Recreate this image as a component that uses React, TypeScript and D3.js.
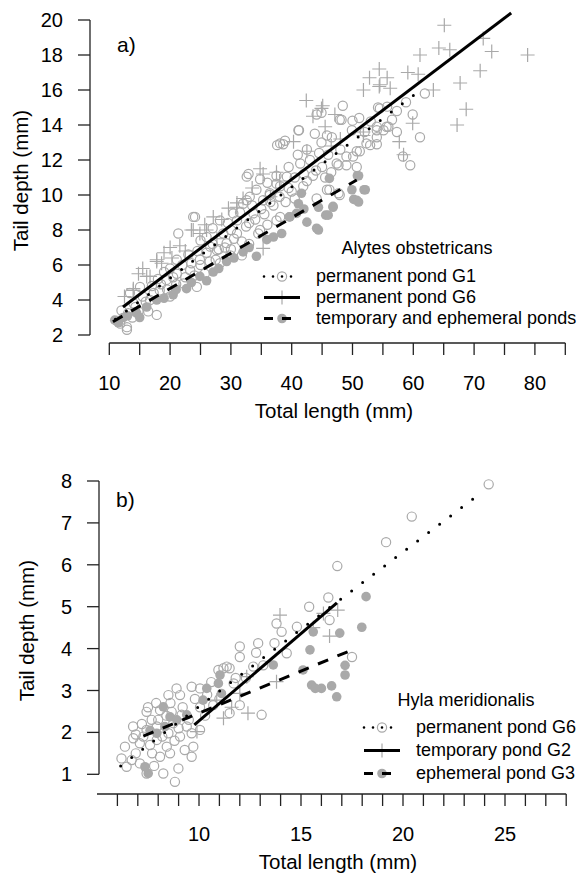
import React from 'react';
import { scaleLinear, line } from 'd3';

// ---- panel a: Alytes obstetricans (total length mm, tail depth mm)
const aG1: [number, number][] = [
  [61.9, 15.8], [58.8, 15.3], [59.9, 14.6], [61.1, 13.3], [59.5, 11.7], [58.3, 12.2], [54.2, 15.0], [55.7, 15.05],
  [57.3, 14.8], [48.4, 15.1], [44.1, 14.6], [44.9, 14.7], [48.2, 14.3], [50.0, 14.25], [51.1, 14.4], [41.2, 13.7],
  [43.8, 13.5], [45.8, 13.4], [46.6, 13.3], [44.9, 13.0], [54.0, 13.9], [55.9, 13.9], [57.3, 13.6], [54.0, 12.9],
  [52.9, 12.85], [54.0, 13.3], [55.1, 13.7], [49.9, 13.7], [51.2, 12.5], [50.1, 12.2], [47.7, 11.7], [49.0, 11.7],
  [50.7, 11.6], [47.7, 10.1], [46.2, 10.3], [38.9, 13.1], [38.6, 12.9], [41.1, 13.7], [37.6, 12.85], [32.9, 11.2],
  [34.8, 10.9], [47.9, 14.3], [47.4, 11.8], [52.3, 12.95], [54.0, 13.7], [55.6, 13.9], [54.5, 14.95], [41.4, 11.8],
  [39.2, 11.05], [37.5, 10.65], [41.9, 10.5], [44.1, 9.8], [45.8, 10.3], [47.9, 10.0], [38.1, 8.75], [36.4, 10.0],
  [35.3, 9.7], [34.2, 10.3], [33.1, 9.9], [32.0, 9.5], [30.4, 8.95], [28.2, 8.55], [49.0, 12.2], [50.7, 12.5],
  [24.1, 8.75], [21.35, 7.8], [15.05, 4.75], [13.4, 4.4], [16.4, 3.35], [17.8, 3.15], [20.0, 4.2], [22.2, 4.95],
  [24.4, 4.75], [25.7, 5.5], [28.2, 6.1], [29.9, 6.55], [31.8, 6.55], [31.8, 7.35], [29.3, 7.25], [27.7, 6.85],
  [34.8, 8.0], [33.7, 8.95], [36.4, 10.1], [38.1, 10.5], [37.5, 8.55], [32.6, 9.7], [31.0, 8.55], [28.75, 7.8],
  [26.6, 7.05], [24.9, 6.3], [23.3, 5.7], [21.1, 5.5], [19.4, 5.15], [18.3, 4.55], [16.7, 4.0], [21.1, 6.3],
  [14.8, 3.35], [13.1, 3.25], [12.9, 2.45], [11.8, 2.65], [38.1, 12.95], [32.6, 11.05], [37.5, 11.1], [23.8, 8.75],
  [12.9, 2.3], [26, 7.6], [27, 7.2], [30, 8.0], [33, 8.4], [35, 9.2], [36, 8.3], [39, 9.6], [40, 10.2], [42, 11.2],
  [43, 12.0], [44, 11.4], [46, 12.3], [20, 5.8], [22, 6.0], [23, 6.6], [25, 7.4], [19, 5.6], [17, 4.8], [15.5, 4.2],
  [14, 3.8], [12, 3.4], [13.8, 3.0], [16, 3.9], [18.5, 4.9], [24, 5.4], [26.5, 6.2], [28, 6.9], [30.5, 7.5],
  [33, 7.2], [34.5, 7.8], [37, 9.4], [40.5, 11.0], [42.5, 10.8], [45, 11.6],
  [18, 5.2], [19.5, 4.6], [21, 4.9], [22.5, 5.3], [23.5, 6.1], [25, 6.0], [26, 6.7], [27.5, 6.3], [29, 7.0],
  [30, 6.9], [31, 7.8], [32.5, 8.2], [34, 8.6], [35.5, 8.9], [36.5, 9.6], [38, 9.9], [39.5, 10.4], [40.5, 9.8],
  [41, 12.3], [42.5, 12.6], [43.5, 11.1], [44.5, 12.4], [45.5, 11.0], [46.5, 11.3], [48, 12.6], [52, 13.6],
  [53, 14.2], [56.5, 14.3], [11.3, 2.8], [14.3, 3.6], [17.3, 4.4], [20.5, 5.3], [24.5, 6.8], [27, 8.1],
  [29.5, 8.4], [31.5, 9.0], [33.5, 9.4], [36, 10.7], [39.5, 11.6],
];
const aG6: [number, number][] = [
  [65.1, 19.7], [64.2, 18.4], [66.0, 18.3], [61.1, 18.0], [71.5, 18.95], [72.9, 18.2], [78.8, 18.0], [71.0, 17.1],
  [67.7, 16.4], [63.3, 16.0], [54.4, 17.2], [52.8, 16.7], [55.7, 16.7], [59.1, 17.0], [60.8, 16.9], [54.4, 16.2],
  [56.2, 16.1], [51.8, 16.0], [68.7, 14.9], [67.2, 14.0], [59.9, 14.1], [57.7, 13.05], [42.4, 15.4], [45.1, 15.1],
  [47.1, 14.6], [43.5, 14.5], [40.3, 13.05], [45.5, 13.9], [51.8, 13.6], [58.4, 12.3], [44.9, 14.95], [34.8, 11.5],
  [37.5, 11.3], [42.5, 12.5], [51.8, 13.4], [31.0, 9.55], [27.1, 8.75], [54.5, 16.3], [35.3, 11.2], [25.7, 8.3],
  [23.5, 8.0], [21.6, 7.1], [17.8, 6.3], [16.7, 5.35], [13.95, 4.65], [14.8, 5.5], [18.6, 6.1], [20.3, 6.4],
  [29.6, 9.25], [30.95, 9.3], [35.3, 6.95], [24.9, 7.8], [27.7, 7.5], [23.8, 8.0], [17.8, 6.2], [16.15, 5.35],
  [13.95, 4.55], [32, 9.8], [38, 10.8], [20, 7.0], [15.5, 5.8], [12.5, 4.2], [36.5, 9.9], [46.5, 12.8], [48, 13.2],
  [22.5, 6.8], [26, 8.0], [28.5, 8.6], [33.5, 10.4], [19, 6.7],
];
const aTemp: [number, number][] = [
  [50.8, 11.1], [46.2, 10.95], [49.9, 10.3], [52.1, 10.3], [50.7, 9.7], [41.6, 10.1], [51.0, 11.1], [51.9, 10.3],
  [50.2, 9.75], [46.8, 9.3], [45.6, 8.85], [44.4, 9.3], [41.1, 9.5], [39.6, 8.75], [44.1, 8.1], [10.9, 2.85],
  [12.3, 3.0], [14.5, 3.25], [16.15, 3.6], [17.8, 4.0], [20.5, 4.3], [22.7, 4.65], [24.9, 5.35], [27.1, 5.6],
  [29.3, 6.2], [32.0, 6.75], [34.2, 6.5], [35.9, 7.45], [38.35, 7.8], [51.0, 9.6], [46.0, 8.85], [44.4, 8.0],
  [42.5, 8.45], [40.8, 8.95], [39.7, 8.75], [46.8, 9.35], [11.5, 2.7], [13, 3.1], [15, 3.0], [19, 4.1], [21, 4.6],
  [23.5, 5.0], [26, 5.1], [28, 5.8], [30.5, 6.4], [33, 7.0], [37, 7.6], [42, 9.2],
];
// fitted lines, end points
const aFitG1: [number, number][] = [[11, 2.9], [61.6, 16.1]];
const aFitG6: [number, number][] = [[12.25, 3.6], [76.1, 20.4]];
const aFitTemp: [number, number][] = [[10.6, 2.76], [50.7, 10.86]];
const aXTicks = [10, 15, 20, 25, 30, 35, 40, 45, 50, 55, 60, 65, 70, 75, 80, 85];
const aXLabels = [10, 20, 30, 40, 50, 60, 70, 80];
const aYTicks = [2, 4, 6, 8, 10, 12, 14, 16, 18, 20];
const aLegend = ['permanent pond G1', 'permanent pond G6', 'temporary and ephemeral ponds'];

// ---- panel b: Hyla meridionalis
const bG6: [number, number][] = [
  [24.2, 7.92], [20.43, 7.15], [19.17, 6.54], [16.78, 5.97], [16.34, 5.22], [15.4, 5.0], [17.5, 3.8], [16.4, 4.68],
  [14.8, 4.52], [13.8, 4.6], [14.05, 4.4], [12.9, 4.13], [12.0, 4.05], [12.0, 3.8], [13.7, 4.13], [14.3, 3.89],
  [13.15, 3.6], [12.66, 3.57], [11.2, 3.53], [11.5, 3.53], [13.07, 2.42], [12.0, 2.65], [11.5, 2.46], [10.7, 2.65],
  [10.05, 2.6], [11.7, 3.17], [10.05, 3.05], [9.64, 3.09], [9.07, 2.89], [8.5, 2.89], [7.9, 2.7], [7.43, 2.49],
  [6.77, 2.14], [6.9, 1.95], [6.37, 1.66], [6.2, 1.38], [6.7, 1.34], [6.45, 1.18], [7.1, 1.26], [7.43, 1.02],
  [8.25, 1.02], [8.82, 0.82], [8.99, 1.14], [9.64, 1.42], [9.72, 1.66], [9.64, 1.98], [9.3, 1.58], [8.58, 1.5],
  [8.09, 1.42], [7.7, 1.5], [7.27, 1.9], [7.68, 2.3], [8.09, 2.53], [8.66, 2.49], [9.15, 2.42], [9.4, 2.14],
  [8.5, 1.98], [7.93, 1.82], [8.42, 1.66], [7.1, 1.74], [6.78, 1.86], [7.93, 2.14], [8.74, 2.22], [9.07, 1.9],
  [7.43, 2.06], [10.05, 2.06], [10.95, 3.49], [11.36, 3.57], [7.2, 2.2], [7.6, 1.7], [8.2, 1.9], [8.8, 1.8],
  [9.2, 2.6], [9.8, 2.8], [10.4, 2.9], [10.6, 3.2], [8.0, 2.3], [8.4, 2.4], [6.9, 1.5], [7.8, 1.2], [9.0, 2.1],
  [10.3, 2.4], [11.0, 2.8], [12.3, 3.3], [9.5, 2.3], [8.6, 2.7], [7.5, 2.6], [8.9, 3.05], [12.8, 3.9], [11.8, 3.3],
];
const bG2: [number, number][] = [
  [16.8, 4.92], [16.1, 4.84], [13.97, 4.8], [13.8, 3.21], [11.2, 2.34], [12.4, 2.46], [12.0, 2.93], [12.34, 3.33],
  [9.9, 2.02], [10.87, 2.77], [15.6, 4.5], [16.4, 4.3], [11.6, 2.6],
];
const bG3: [number, number][] = [
  [18.19, 5.24], [17.98, 4.51], [16.9, 4.37], [15.6, 4.4], [15.44, 3.97], [15.1, 3.49], [17.16, 3.6], [17.16, 3.37],
  [15.52, 3.13], [16.0, 3.05], [16.5, 3.11], [16.75, 2.85], [15.7, 3.05], [7.51, 1.02], [7.35, 1.18], [10.38, 3.05],
  [11.03, 3.37], [11.1, 2.93], [10.95, 3.17], [10.2, 2.77], [13.64, 3.61], [8.25, 2.61], [8.58, 2.37], [8.91, 2.3],
  [8.33, 2.14], [9.4, 2.42], [7.93, 1.98], [7.6, 2.05],
];
const bFitG6: [number, number][] = [[6.16, 1.2], [23.94, 7.76]];
const bFitG2: [number, number][] = [[9.77, 2.18], [16.76, 5.09]];
const bFitG3: [number, number][] = [[7.27, 1.91], [17.56, 3.98]];
const bXTicks = [6, 7, 8, 9, 10, 11, 12, 13, 14, 15, 16, 17, 18, 19, 20, 21, 22, 23, 24, 25, 26, 27, 28];
const bXLabels = [10, 15, 20, 25];
const bYTicks = [1, 2, 3, 4, 5, 6, 7, 8];
const bLegend = ['permanent pond G6', 'temporary pond G2', 'ephemeral pond G3'];

const FONT = '"Liberation Sans", Arial, Helvetica, sans-serif';
const GREY = '#a9a9a9';
const DOTTED = '0 13.8';
const DASHED = '11 10';

type Kind = 'circle' | 'plus' | 'filled';

const Mark = ({ kind, cx, cy }: { kind: Kind; cx: number; cy: number }) => {
  if (kind === 'circle') return <circle cx={cx} cy={cy} r={4.6} fill="none" stroke={GREY} strokeWidth={1.2} />;
  if (kind === 'filled') return <circle cx={cx} cy={cy} r={4.8} fill={GREY} />;
  return (
    <path d={`M${cx - 7},${cy}H${cx + 7}M${cx},${cy - 7}V${cy + 7}`} stroke={GREY} strokeWidth={1.2} fill="none" />
  );
};

const Panel = ({
  xDomain, xRange, yDomain, yRange, xTicks, xLabels, yTicks, xAxisLine, axisY, yAxisX, series, fits,
  tag, tagPos, yTitleX, xTitle, species, legend, legendPos,
}: any) => {
  const x = scaleLinear().domain(xDomain).range(xRange);
  const y = scaleLinear().domain(yDomain).range(yRange);
  const ln = line<[number, number]>().x(d => x(d[0])).y(d => y(d[1]));
  const styles = [DOTTED, null, DASHED];
  const kinds: Kind[] = ['circle', 'plus', 'filled'];
  return (
    <g fontFamily={FONT} fill="#000">
      {series.map((pts: [number, number][], i: number) =>
        pts.map((d, j) => <Mark key={`${i}-${j}`} kind={kinds[i]} cx={x(d[0])} cy={y(d[1])} />)
      )}
      {fits.map((f: [number, number][], i: number) => (
        <path key={i} d={ln(f) || ''} fill="none" stroke="#000" strokeWidth={3}
          strokeDasharray={styles[i] || undefined} strokeLinecap={i === 0 ? 'round' : 'butt'} />
      ))}
      {/* y axis */}
      <g stroke="#222" strokeWidth={1.3}>
        <line x1={yAxisX} x2={yAxisX} y1={y(yTicks[0])} y2={y(yTicks[yTicks.length - 1])} />
        {yTicks.map((t: number) => <line key={t} x1={yAxisX - 12} x2={yAxisX} y1={y(t)} y2={y(t)} />)}
      </g>
      {yTicks.map((t: number) => (
        <text key={t} x={yAxisX - 27} y={y(t)} dy="0.35em" textAnchor="end" fontSize={20}>{t}</text>
      ))}
      {/* x axis */}
      <g stroke="#222" strokeWidth={1.3}>
        <line x1={x(xAxisLine[0])} x2={x(xAxisLine[1])} y1={axisY} y2={axisY} />
        {xTicks.map((t: number) => <line key={t} x1={x(t)} x2={x(t)} y1={axisY} y2={axisY + 12} />)}
      </g>
      {xLabels.map((t: number) => (
        <text key={t} x={x(t)} y={axisY + 47} textAnchor="middle" fontSize={20}>{t}</text>
      ))}
      <text x={xTitle[0]} y={xTitle[1]} textAnchor="middle" fontSize={20.5}>Total length (mm)</text>
      <text transform={`translate(${yTitleX},${(y(yTicks[0]) + y(yTicks[yTicks.length - 1])) / 2 + 3}) rotate(-90)`}
        textAnchor="middle" fontSize={20.5}>Tail depth (mm)</text>
      <text x={tagPos[0]} y={tagPos[1]} fontSize={21}>{tag}</text>
      {/* legend */}
      <text x={species[0]} y={species[1]} textAnchor="middle" fontSize={18}>{species[2]}</text>
      {legend.map((lab: string, i: number) => {
        const ly = legendPos.y0 + i * legendPos.dy;
        const x0 = legendPos.x0;
        return (
          <g key={lab}>
            <Mark kind={kinds[i]} cx={x0 + 18} cy={ly - 5.5} />
            <line x1={x0} x2={x0 + 36} y1={ly - 5.5} y2={ly - 5.5} stroke="#000"
              strokeWidth={i === 0 ? 2.6 : 3} strokeDasharray={i === 0 ? '0 9' : i === 2 ? '9 9' : undefined}
              strokeLinecap={i === 0 ? 'round' : 'butt'} />
            <text x={x0 + 52} y={ly} fontSize={18}>{lab}</text>
          </g>
        );
      })}
    </g>
  );
};

export default function App() {
  return (
    <svg width={578} height={874} style={{ position: 'absolute', left: 0, top: 0, background: '#fff' }}>
      <Panel
        xDomain={[10, 85]} xRange={[109.3, 565.3]} yDomain={[2, 20]} yRange={[335, 20]}
        xTicks={aXTicks} xLabels={aXLabels} yTicks={aYTicks} xAxisLine={[10, 85]} axisY={343} yAxisX={90}
        series={[aG1, aG6, aTemp]} fits={[aFitG1, aFitG6, aFitTemp]}
        tag="a)" tagPos={[117, 52]} yTitleX={28} xTitle={[334, 418]}
        species={[417, 254, 'Alytes obstetricans']} legend={aLegend}
        legendPos={{ x0: 264, y0: 282, dy: 21 }}
      />
      <Panel
        xDomain={[10, 25]} xRange={[199, 505]} yDomain={[1, 8]} yRange={[774.3, 481]}
        xTicks={bXTicks} xLabels={bXLabels} yTicks={bYTicks} xAxisLine={[5, 28]} axisY={794} yAxisX={99}
        series={[bG6, bG2, bG3]} fits={[bFitG6, bFitG2, bFitG3]}
        tag="b)" tagPos={[116, 507]} yTitleX={34} xTitle={[338, 869]}
        species={[466, 706, 'Hyla meridionalis']} legend={bLegend}
        legendPos={{ x0: 364, y0: 733, dy: 23 }}
      />
    </svg>
  );
}
